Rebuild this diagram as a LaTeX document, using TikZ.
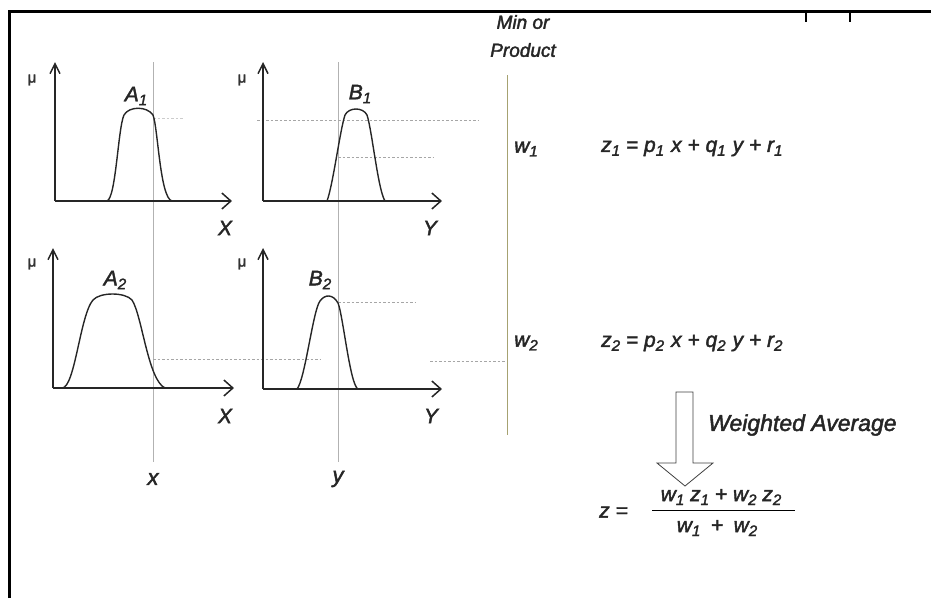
\documentclass[tikz,border=0pt]{standalone}
\usepackage{fontspec}
\usepackage{graphicx}
\setmainfont{Liberation Sans}
\newfontfamily\labfont{Liberation Sans}[FakeBold=2]
\usetikzlibrary{arrows.meta}
\newcommand{\sbs}[1]{\raisebox{-0.35ex}{\scalebox{0.72}{#1}}}
\newcommand{\gap}{\hspace{7pt}}
\begin{document}
\begin{tikzpicture}[x=1pt,y=-1pt,
  axisline/.style={draw=black!85, line width=1.5pt},
  xarr/.style={axisline, -{Straight Barb[length=9pt,width=16pt]}},
  yarr/.style={axisline, {Straight Barb[length=10pt,width=10pt]}-},
  guide/.style={draw=gray!60, line width=0.6pt},
  dots/.style={draw=gray!70, line width=0.7pt, dash pattern=on 2.5pt off 2pt},
  bell/.style={draw=black!85, line width=1.4pt},
  mu/.style={font=\labfont\fontsize{15}{15}\selectfont, inner sep=0pt, text=black!80},
  lbl/.style={font=\labfont\itshape\fontsize{21}{21}\selectfont, inner sep=0pt, text=black!85},
  eq/.style={font=\labfont\itshape\fontsize{21}{21}\selectfont, inner sep=0pt, text=black!85}
]
\useasboundingbox (0,0) rectangle (931,598);
% border
\draw[line width=3pt] (9,598) -- (9,11) -- (931,11);
\draw[line width=1.5pt] (806,11) -- (806,22);
\draw[line width=1.5pt] (850,11) -- (850,22);

% guides x and y
\coordinate (gxt) at (153,62); \coordinate (gxb) at (153,462);
\coordinate (gyt) at (338,62); \coordinate (gyb) at (338,462);
\draw[guide] (gxt) -- (gxb);
\draw[guide] (gyt) -- (gyb);
\node[lbl, font=\labfont\itshape\fontsize{22}{22}\selectfont] (xl) at (153,479) {x};
\node[lbl, font=\labfont\itshape\fontsize{22}{22}\selectfont] (yl) at (338,479) {y};

% Min line
\coordinate (mt) at (507,75); \coordinate (mb) at (507,435);
\draw[draw=gray!60!olive!80, line width=0.9pt] (mt) -- (mb);
\node[lbl, align=center, font=\labfont\itshape\fontsize{19}{28}\selectfont] (minp) at (523,36) {Min or\\Product};

% dashed/dotted levels
\draw[dots, draw=gray!40] (153,118) -- (183,118);
\draw[dots] (257,120) -- (478,120);
\draw[dots] (338,157) -- (433,157);
\draw[dots] (153,359) -- (320,359);
\draw[dots] (430,361) -- (505,361);
\draw[dots] (338,302) -- (415,302);

% Panel A1
\coordinate (oa1) at (55,201);
\draw[xarr] (oa1) -- (232,201);
\draw[yarr] (55,62) -- (oa1);
\node[mu] (mua1) at (32,80) {μ};
\draw[bell] (107,201) .. controls (116,198) and (118,128) .. (124,115) .. controls (129,106) and (147,106) .. (153,115) .. controls (158,128) and (160,198) .. (172,201);
\node[lbl] (A1) at (136,96) {A\sbs{1}};
\node[lbl] (X1) at (225,228) {X};

% Panel B1
\coordinate (ob1) at (263,201);
\draw[xarr] (ob1) -- (442,201);
\draw[yarr] (263,62) -- (ob1);
\node[mu] (mub1) at (242,80) {μ};
\draw[bell] (327,201) .. controls (333,185) and (340,130) .. (345,115) .. controls (349,107) and (363,107) .. (367,115) .. controls (372,130) and (378,190) .. (385,201);
\node[lbl] (B1) at (360,94) {B\sbs{1}};
\node[lbl] (Y1) at (430,228) {Y};

% Panel A2
\coordinate (oa2) at (53,388);
\draw[xarr] (oa2) -- (234,388);
\draw[yarr] (53,248) -- (oa2);
\node[mu] (mua2) at (32,264) {μ};
\draw[bell] (62,388) .. controls (75,388) and (80,315) .. (93,300) .. controls (100,292) and (125,292) .. (132,300) .. controls (142,315) and (148,380) .. (165,388);
\node[lbl] (A2) at (115,280) {A\sbs{2}};
\node[lbl] (X2) at (225,416) {X};

% Panel B2
\coordinate (ob2) at (263,389);
\draw[xarr] (ob2) -- (442,389);
\draw[yarr] (263,248) -- (ob2);
\node[mu] (mub2) at (242,264) {μ};
\draw[bell] (297,389) .. controls (305,380) and (313,310) .. (320,301) .. controls (325,294) and (333,294) .. (338,303) .. controls (343,315) and (350,385) .. (358,389);
\node[lbl] (B2) at (320,280) {B\sbs{2}};
\node[lbl] (Y2) at (431,416) {Y};

% right side
\node[lbl, anchor=west] (w1) at (514,149) {w\sbs{1}};
\node[lbl, anchor=west] (w2) at (514,343) {w\sbs{2}};
\node[eq, anchor=west] (z1) at (601,148) {z\sbs{1} = p\sbs{1}\gap x + q\sbs{1}\gap y + r\sbs{1}};
\node[eq, anchor=west] (z2) at (601,343) {z\sbs{2} = p\sbs{2}\gap x + q\sbs{2}\gap y + r\sbs{2}};

% hollow arrow
\draw[draw=black!75, line width=0.8pt, fill=white] (676,392) -- (693,392) -- (693,463) -- (713,463) -- (685,486) -- (657,463) -- (676,463) -- cycle;
\node[lbl, anchor=west, font=\labfont\itshape\fontsize{23}{23}\selectfont] (wa) at (708,425) {Weighted Average};

% final formula
\node[eq, anchor=west] (zeq) at (599,512) {z =};
\node[eq] (num) at (721,497) {w\sbs{1} z\sbs{1} + w\sbs{2} z\sbs{2}};
\node[eq] (den) at (717,528) {w\sbs{1}\enspace+\enspace w\sbs{2}};
\draw[line width=1pt] (652,510) -- (795,510);
\end{tikzpicture}
\end{document}
